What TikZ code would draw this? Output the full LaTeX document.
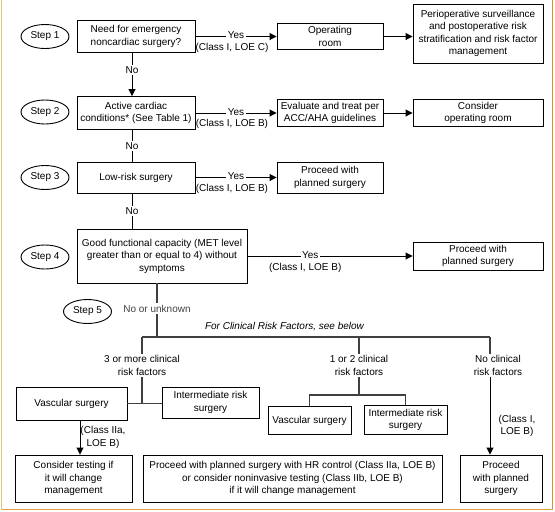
\documentclass[tikz,border=0pt]{standalone}
\usepackage{fontspec}
\setmainfont{Liberation Sans}
\usetikzlibrary{arrows.meta,shapes.geometric}
\definecolor{frameyel}{RGB}{218,198,120}
\definecolor{frameora}{RGB}{228,140,50}
\definecolor{framebot}{RGB}{228,160,60}
\begin{document}
\begin{tikzpicture}[x=1pt,y=-1pt,
  every node/.style={font=\fontsize{10}{12.5}\selectfont},
  box/.style={draw, line width=0.9pt, align=center, inner sep=1pt},
  stepel/.style={draw, ellipse, line width=0.9pt, minimum width=48pt, minimum height=24pt, inner sep=0pt},
  conn/.style={line width=0.9pt},
  arr/.style={line width=0.9pt, -{Triangle[length=7pt,width=7pt]}},
  brl/.style={line width=1.3pt, black!75},
  lbl/.style={align=center, inner sep=1pt},
  onl/.style={fill=white, inner sep=1.5pt}
]
\useasboundingbox (0,0) rectangle (555,512);
% frame lines
\draw[line width=1.8pt, frameyel] (1.5,0) -- (1.5,510);
\draw[line width=1.8pt, frameora] (552.5,0) -- (552.5,510);
\draw[line width=1.8pt, framebot] (1.5,509.5) -- (553,509.5);

% steps
\node[stepel] (s1) at (45,36.5) {Step 1};
\node[stepel] (s2) at (45,112) {Step 2};
\node[stepel] (s3) at (45,177.5) {Step 3};
\node[stepel] (s4) at (45,257) {Step 4};
\node[stepel] (s5) at (87.5,311.5) {Step 5};

% boxes
\node[box, minimum width=118pt, minimum height=32pt] (b1) at (136,36.5) {Need for emergency\\noncardiac surgery?};
\node[box, minimum width=106pt, minimum height=26pt] (or1) at (330,36.5) {Operating\\room};
\node[box, minimum width=130pt, minimum height=59pt] (peri) at (478,33.5) {Perioperative surveillance\\and postoperative risk\\stratification and risk factor\\management};
\node[box, minimum width=118pt, minimum height=33pt] (b2) at (136,113) {Active cardiac\\conditions* (See Table 1)};
\node[box, minimum width=106pt, minimum height=27pt] (eval) at (330,113) {Evaluate and treat per\\ACC/AHA guidelines};
\node[box, minimum width=130pt, minimum height=27pt] (cons) at (478,113) {Consider\\operating room};
\node[box, minimum width=118pt, minimum height=31pt] (b3) at (136,177.5) {Low-risk surgery};
\node[box, minimum width=106pt, minimum height=31pt] (proc1) at (330,177.5) {Proceed with\\planned surgery};
\node[box, minimum width=170pt, minimum height=54pt] (b4) at (162,256) {Good functional capacity (MET level\\greater than or equal to 4) without\\symptoms};
\node[box, minimum width=130pt, minimum height=28pt] (proc2) at (478,256) {Proceed with\\planned surgery};

% arrows top part
\draw[arr] (b1.east) -- (or1.west)
  node[onl, pos=0.5, yshift=1pt] {Yes}
  node[lbl, pos=0.45, yshift=-11pt] {(Class I, LOE C)};
\draw[arr] (or1.east) -- (peri.west |- or1.east);
\draw[arr] (b2.east) -- (eval.west)
  node[onl, pos=0.5, yshift=1pt] {Yes}
  node[lbl, pos=0.45, yshift=-11pt] {(Class I, LOE B)};
\draw[arr] (eval.east) -- (cons.west);
\draw[arr] (b3.east) -- (proc1.west)
  node[onl, pos=0.5, yshift=1pt] {Yes}
  node[lbl, pos=0.45, yshift=-11pt] {(Class I, LOE B)};
\draw[arr] (b4.east) -- (proc2.west)
  node[onl, pos=0.38, yshift=1pt] {Yes}
  node[lbl, pos=0.35, yshift=-12pt] {(Class I, LOE B)};

% No connectors
\coordinate (nx) at (132,0);
\draw[arr] (b1.south -| nx) -- (b2.north -| nx) node[onl, pos=0.4] {No};
\draw[conn] (b2.south -| nx) -- (b3.north -| nx) node[onl, pos=0.5] {No};
\draw[conn] (b3.south -| nx) -- (b4.north -| nx) node[onl, pos=0.5] {No};

% branch
\coordinate (stem) at (157,337);
\coordinate (brL) at (142,337);
\coordinate (brM) at (359,337);
\coordinate (brR) at (490,337);
\draw[brl] (b4.south -| stem) -- (stem) node[onl, pos=0.47] {No or unknown};
\draw[brl] (brL) -- (brR);
\node[lbl, font=\fontsize{10}{12.5}\selectfont\itshape] (crf) at (284.5,326.5) {For Clinical Risk Factors, see below};

\node[lbl] (rf3) at (142,365.5) {3 or more clinical\\risk factors};
\node[lbl] (rf12) at (359,365.5) {1 or 2 clinical\\risk factors};
\node[lbl] (rf0) at (498,365.5) {No clinical\\risk factors};
\draw[brl] (brL) -- (rf3.north);
\draw[brl] (brM) -- (rf12.north);
\draw[brl] (brR) -- (brR |- rf0.north);

% lower boxes
\node[box, minimum width=111pt, minimum height=33pt] (vasc1) at (71.5,403.5) {Vascular surgery};
\node[box, minimum width=97pt, minimum height=31pt] (inter1) at (210.5,402.5) {Intermediate risk\\surgery};
\node[box, minimum width=83pt, minimum height=28pt] (vasc2) at (309.5,420.5) {Vascular surgery};
\node[box, minimum width=83pt, minimum height=29pt] (inter2) at (405.5,420) {Intermediate risk\\surgery};
\node[box, minimum width=117pt, minimum height=47pt] (cons2) at (73.5,478.5) {Consider testing if\\it will change\\management};
\node[box, minimum width=299pt, minimum height=47pt] (hr) at (292.5,478.5) {Proceed with planned surgery with HR control (Class IIa, LOE B)\\or consider noninvasive testing (Class IIb, LOE B)\\if it will change management};
\node[box, minimum width=82pt, minimum height=47pt] (proc3) at (501,478.5) {Proceed\\with planned\\surgery};

% lower connectors
\draw[brl] (rf3.south) -- (rf3.south |- vasc1.east);
\draw[brl] (vasc1.east) -- (vasc1.east -| inter1.west);
\coordinate (j12) at (359,395);
\draw[brl] (rf12.south) -- (j12);
\draw[brl] (vasc2.north) |- (j12) -| (inter2.north);

\coordinate (ax) at (80,0);
\draw[arr] (vasc1.south -| ax) -- (cons2.north -| ax);
\node[lbl] (c2a) at (103,437.5) {(Class IIa,\\LOE B)};
\draw[arr] (rf0.south -| brR) -- (proc3.north -| brR);
\node[lbl] (c1b) at (517,426) {(Class I,\\LOE B)};
\end{tikzpicture}
\end{document}
